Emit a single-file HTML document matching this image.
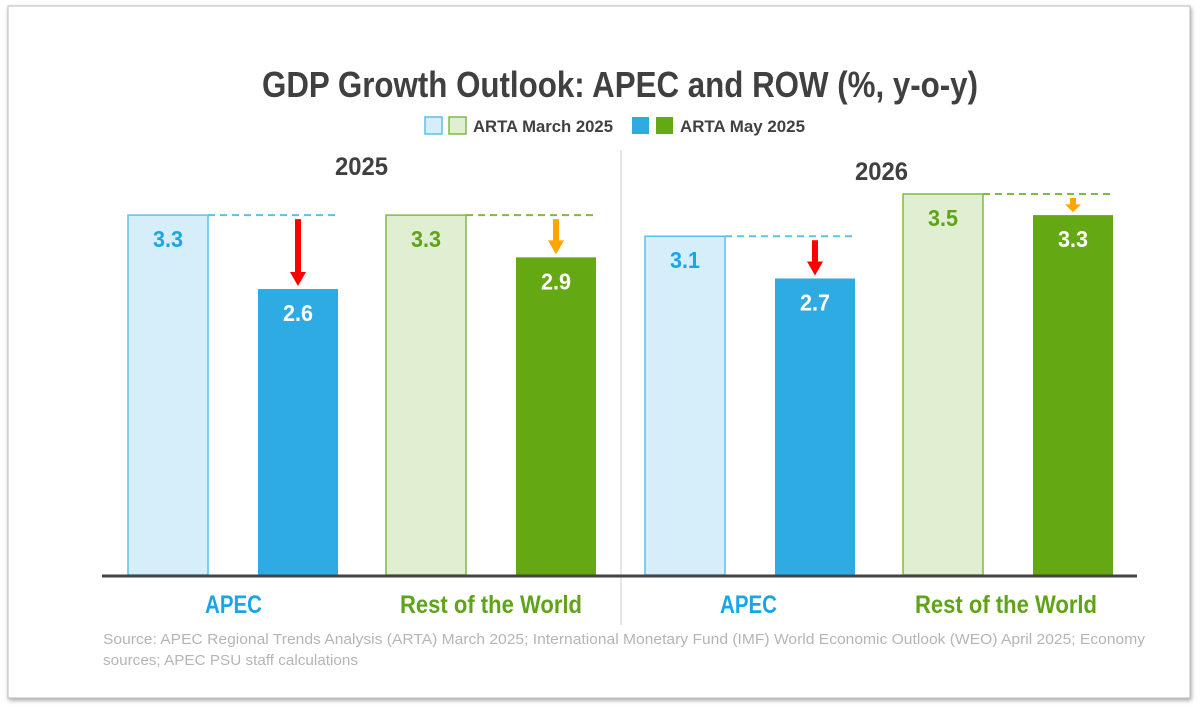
<!DOCTYPE html>
<html><head><meta charset="utf-8"><style>
body{margin:0;background:#fff;width:1200px;height:711px;overflow:hidden;font-family:"Liberation Sans",sans-serif}
</style></head><body>
<svg width="1200" height="711" xmlns="http://www.w3.org/2000/svg">
<defs><filter id="sh" x="-5%" y="-5%" width="110%" height="110%"><feDropShadow dx="1" dy="2" stdDeviation="2" flood-color="#000" flood-opacity="0.35"/></filter></defs>
<rect x="8" y="6" width="1182" height="692" fill="#fff" stroke="#bbb" filter="url(#sh)"/>
<text x="262" y="97" textLength="716" lengthAdjust="spacingAndGlyphs" font-size="36" font-weight="bold" fill="#404040">GDP Growth Outlook: APEC and ROW (%, y-o-y)</text>
<g font-size="17" font-weight="bold" fill="#404040">
<rect x="425" y="117" width="17" height="17" fill="#d6eefa" stroke="#5bc0eb" stroke-width="1.5"/>
<rect x="449" y="117" width="17" height="17" fill="#e0eed2" stroke="#7dbb42" stroke-width="1.5"/>
<text x="473" y="132" textLength="140" lengthAdjust="spacingAndGlyphs">ARTA March 2025</text>
<rect x="632" y="117" width="17" height="17" fill="#2fabe3"/>
<rect x="656" y="117" width="17" height="17" fill="#64a814"/>
<text x="680" y="132" textLength="125" lengthAdjust="spacingAndGlyphs">ARTA May 2025</text>
</g>
<text x="335" y="175" textLength="53" lengthAdjust="spacingAndGlyphs" font-size="25" font-weight="bold" fill="#404040">2025</text>
<text x="855" y="180" textLength="53" lengthAdjust="spacingAndGlyphs" font-size="25" font-weight="bold" fill="#404040">2026</text>
<line x1="621" y1="150" x2="621" y2="625" stroke="#ccc" stroke-width="1"/>
<g id="bars"></g>
<line x1="102" y1="576" x2="1137" y2="576" stroke="#444" stroke-width="3"/>
<g font-size="25" font-weight="bold">
<text x="205" y="613" textLength="57" lengthAdjust="spacingAndGlyphs" fill="#1aa6e6">APEC</text>
<text x="400" y="613" textLength="182" lengthAdjust="spacingAndGlyphs" fill="#5fa318">Rest of the World</text>
<text x="720" y="613" textLength="57" lengthAdjust="spacingAndGlyphs" fill="#1aa6e6">APEC</text>
<text x="915" y="613" textLength="182" lengthAdjust="spacingAndGlyphs" fill="#5fa318">Rest of the World</text>
</g>
<g font-size="15" fill="#b5b5b5">
<text x="103" y="644" textLength="1042" lengthAdjust="spacingAndGlyphs">Source: APEC Regional Trends Analysis (ARTA) March 2025; International Monetary Fund (IMF) World Economic Outlook (WEO) April 2025; Economy</text>
<text x="103" y="665" textLength="255" lengthAdjust="spacingAndGlyphs">sources; APEC PSU staff calculations</text>
</g>
</svg>
<script>
const groups=['APEC 2025','ROW 2025','APEC 2026','ROW 2026'];
const marchValues=[3.3,3.3,3.1,3.5];
const mayValues=[2.6,2.9,2.7,3.3];
const groupX=[128,386,645,903];
const isApec=[true,false,true,false];
function y(v){return 194+105.6*(3.5-v);}
const base=575;
const g=document.getElementById('bars');
const NS='http://www.w3.org/2000/svg';
function mk(t,a){const e=document.createElementNS(NS,t);for(const k in a)e.setAttribute(k,a[k]);g.appendChild(e);return e;}
groups.forEach((name,i)=>{
  const x0=groupX[i],w=80,x1=x0+130;
  const ap=isApec[i];
  const ym=y(marchValues[i]),yy=y(mayValues[i]);
  let r=mk('rect',{x:x0,y:ym,width:w,height:base-ym,fill:ap?'#d6eefa':'#e0eed2',stroke:ap?'#5bc0eb':'#7dbb42','stroke-width':1.5});
  
  
  let d=mk('line',{x1:x0+w,y1:ym,x2:x1+w,y2:ym,stroke:ap?'#5bc0eb':'#7dbb42','stroke-width':2,'stroke-dasharray':'7,5'});
  
  
  let r2=mk('rect',{x:x1,y:yy,width:w,height:base-yy,fill:ap?'#2fabe3':'#64a814'});
  
  
  const cx=x1+w/2,ya=ym+4,yb=yy-3,col=ap?'#ff0000':'#ffa500';
  const hh=Math.min(14,(yb-ya)*0.55);
  let a=mk('path',{d:`M${cx-3},${ya} L${cx+3},${ya} L${cx+3},${yb-hh} L${cx+8},${yb-hh} L${cx},${yb} L${cx-8},${yb-hh} L${cx-3},${yb-hh} Z`,fill:col});
  
  
  let t=mk('text',{x:x0+w/2-15,y:ym+32,textLength:30,lengthAdjust:'spacingAndGlyphs','font-size':23,'font-weight':'bold',fill:ap?'#1aa6e6':'#5fa318'});
  t.textContent=marchValues[i].toFixed(1);
  
  
  let t2=mk('text',{x:cx-15,y:yy+32,textLength:30,lengthAdjust:'spacingAndGlyphs','font-size':23,'font-weight':'bold',fill:'#fff'});
  t2.textContent=mayValues[i].toFixed(1);
  
  
});
</script>
</body></html>
